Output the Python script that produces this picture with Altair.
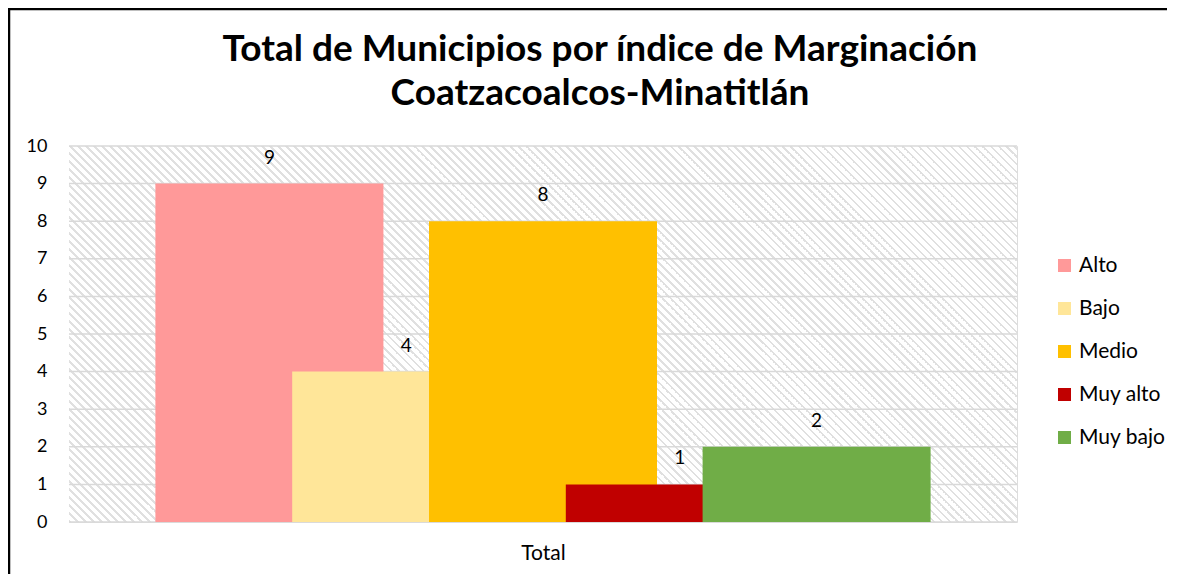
import altair as alt
import pandas as pd

# ---- data ----
categories = ["Alto", "Bajo", "Medio", "Muy alto", "Muy bajo"]
values = [9, 4, 8, 1, 2]
colors = ["#FF9999", "#FFE699", "#FFC000", "#C00000", "#70AD47"]
y_ticks = [0, 1, 2, 3, 4, 5, 6, 7, 8, 9, 10]
x_label = "Total"
title_lines = ["Total de Municipios por índice de Marginación", "Coatzacoalcos-Minatitlán"]

# ---- layout params ----
W, H = 948, 376
PAD_BOTTOM = 52
overlap = 0.4          # Excel-style series overlap
step = 1 - overlap
bar_units = W / 228.0  # plot width measured in bar widths
span = step * (len(categories) - 1) + 1
margin = (bar_units - span) / 2
center = span / 2

df = pd.DataFrame({
    "cat": categories,
    "value": values,
    "start": [i * step for i in range(len(categories))],
})
df["end"] = df["start"] + 1
df["mid"] = df["start"] + 0.5
df["label"] = df["value"].astype(str)

grid_df = pd.DataFrame({"tick": y_ticks})

FONT = "Lato"

# hatch gradient (diagonal stripes), objectBoundingBox-corrected for 45 degrees
k = (W + H) / (W ** 2 + H ** 2)
period = 8.0 / (W + H)
frac = 0.33
HATCH = "#e0e0e0"
stops = []
n = int(1 / period) + 1
for p in range(n):
    a = p * period
    b = a + period * frac
    c = (p + 1) * period
    for off, col in ((a, HATCH), (b, HATCH), (b, "#ffffff"), (c, "#ffffff")):
        stops.append({"offset": min(off, 1.0), "color": col})
gradient = {"gradient": "linear", "x1": 0, "y1": 1, "x2": k * W, "y2": 1 - k * H, "stops": stops}

xscale = alt.Scale(domain=[-margin, span + margin], nice=False, zero=False)
yscale = alt.Scale(domain=[0, 10], nice=False)

x_axis = alt.Axis(values=[center], labelExpr=f"'{x_label}'", title=None, grid=False,
                  ticks=False, domain=False, labelFont=FONT, labelFontSize=21,
                  labelColor="#000000", labelPadding=20)
y_axis = alt.Axis(values=y_ticks, title=None, grid=False, ticks=False, domain=False,
                  labelOverlap=False, labelFont=FONT, labelFontSize=18,
                  labelColor="#000000", labelPadding=22)

background = alt.Chart(grid_df).mark_rect(fill=gradient, strokeWidth=0).encode(
    x=alt.value(0), x2=alt.value(W), y=alt.value(0), y2=alt.value(H)
).transform_filter("datum.tick == 0")

grid = alt.Chart(grid_df).mark_rule(color="#d9d9d9", strokeWidth=1.5).encode(
    x=alt.value(0), x2=alt.value(W),
    y=alt.Y("tick:Q", scale=yscale, axis=y_axis),
)

bars = alt.Chart(df).mark_bar(strokeWidth=0).encode(
    x=alt.X("start:Q", scale=xscale, axis=x_axis),
    x2="end:Q",
    y=alt.Y("value:Q", scale=yscale, axis=y_axis),
    y2=alt.datum(0),
    color=alt.Color("cat:N", scale=alt.Scale(domain=categories, range=colors),
                    legend=alt.Legend(title=None, orient="none", legendX=985, legendY=109,
                                      symbolType="square", symbolSize=169, symbolStrokeWidth=0,
                                      labelFont=FONT, labelFontSize=21, labelColor="#000000",
                                      labelOffset=4, rowPadding=21)),
    order=alt.Order("start:Q"),
)

labels = alt.Chart(df).mark_text(font=FONT, fontSize=19, color="#000000", baseline="middle", dy=-26).encode(
    x=alt.X("mid:Q", scale=xscale, axis=x_axis),
    y=alt.Y("value:Q", scale=yscale, axis=y_axis),
    text="label:N",
)

border_top = alt.Chart(grid_df).mark_rule(color="#000000", strokeWidth=2.5).encode(
    x=alt.value(-61), x2=alt.value(W + 160), y=alt.value(-137)
).transform_filter("datum.tick == 0")
border_left = alt.Chart(grid_df).mark_rule(color="#000000", strokeWidth=2.5).encode(
    x=alt.value(-60), y=alt.value(-138), y2=alt.value(H + PAD_BOTTOM)
).transform_filter("datum.tick == 0")

chart = alt.layer(background, grid, bars, labels, border_top, border_left).properties(
    width=W, height=H,
    title=alt.TitleParams(text=title_lines, font=FONT, fontSize=37, fontWeight="bold",
                          color="#000000", anchor="middle", dx=57, offset=-106, lineHeight=44),
    autosize=alt.AutoSizeParams(type="none"),
    padding={"left": 61, "top": 138, "right": 150, "bottom": PAD_BOTTOM},
).configure_view(stroke=None).configure(background="white")

chart.save("out.html", embed_options={"renderer": "svg", "actions": False})
